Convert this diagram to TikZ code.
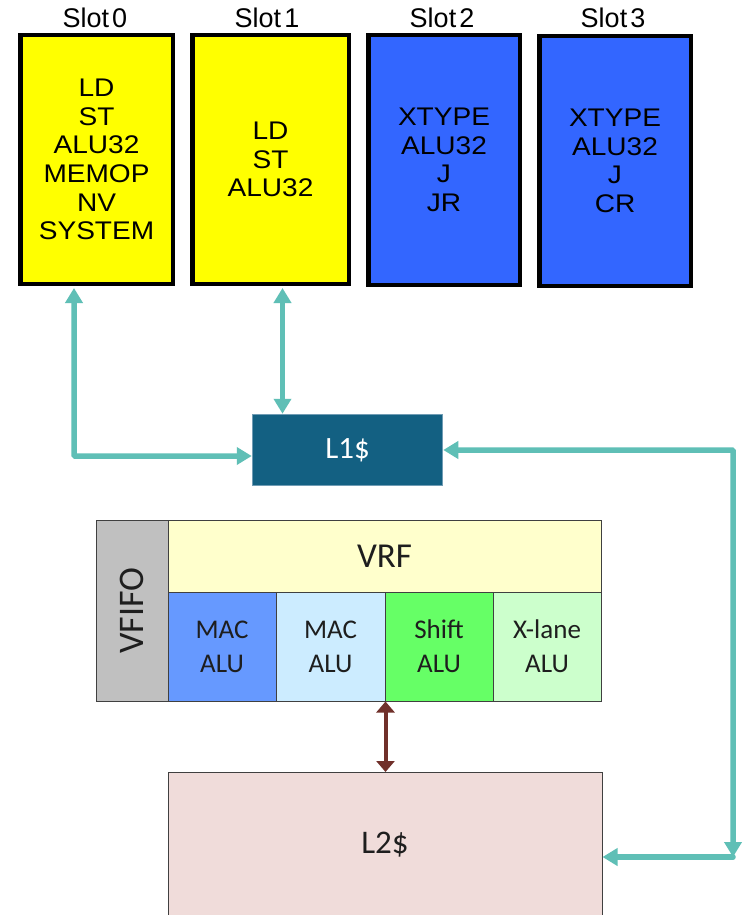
\documentclass[tikz,border=0pt]{standalone}
\usepackage{fontspec}
\setmainfont{Liberation Sans}
\newfontfamily\slotfont[FakeStretch=1.1]{Liberation Sans}
\newfontfamily\calfont{Carlito}
\usetikzlibrary{arrows.meta,calc}

\definecolor{slotyellow}{RGB}{255,255,0}
\definecolor{slotblue}{RGB}{51,102,255}
\definecolor{teal1}{RGB}{95,191,182}
\definecolor{l1fill}{RGB}{19,96,130}
\definecolor{l1edge}{RGB}{112,156,180}
\definecolor{l2fill}{RGB}{240,220,218}
\definecolor{vfifo}{RGB}{192,192,192}
\definecolor{vrf}{RGB}{255,255,204}
\definecolor{macA}{RGB}{102,153,255}
\definecolor{macB}{RGB}{204,236,255}
\definecolor{shiftc}{RGB}{102,255,102}
\definecolor{xlane}{RGB}{204,255,204}
\definecolor{brownarrow}{RGB}{112,48,42}
\definecolor{celltext}{RGB}{30,30,30}

\tikzset{
  slotbox/.style={draw=black, line width=4.5pt, inner sep=0pt, align=center,
    font={\slotfont\fontsize{25.5}{28.6}\selectfont}},
  slotlabel/.style={anchor=base, inner sep=0pt, font={\fontsize{27}{30}\selectfont}},
  cell/.style={draw=black!75, line width=1pt, inner sep=0pt, align=center,
    text=celltext, font={\calfont\fontsize{27}{34}\selectfont}},
  tealarrow/.style={draw=teal1, line width=5.5pt,
    arrows={Triangle[width=17pt,length=15pt]-Triangle[width=17pt,length=15pt]}},
  tealhead/.style={draw=teal1, line width=5.5pt, -{Triangle[width=17pt,length=15pt]}},
  brownarr/.style={draw=brownarrow, line width=4pt,
    {Triangle[width=18pt,length=11pt]}-{Triangle[width=18pt,length=11pt]}},
}

\begin{document}
\begin{tikzpicture}[x=1pt,y=-1pt]
\useasboundingbox (0,0) rectangle (742,915);
\clip (0,0) rectangle (742,915);
\fill[white] (0,0) rectangle (742,915);

% issue slots
\node[slotbox, fill=slotyellow, minimum width=152.5pt, minimum height=248.5pt] (s0) at (96.5,159.5)
  {LD\\ST\\ALU32\\MEMOP\\NV\\SYSTEM};
\node[slotbox, fill=slotyellow, minimum width=156.5pt, minimum height=248.5pt] (s1) at (270.5,159.5)
  {LD\\ST\\ALU32};
\node[slotbox, fill=slotblue, minimum width=151.5pt, minimum height=249.5pt] (s2) at (444,160)
  {XTYPE\\ALU32\\J\\JR};
\node[slotbox, fill=slotblue, minimum width=151.5pt, minimum height=249.5pt] (s3) at (615,161)
  {XTYPE\\ALU32\\J\\CR};

\node[slotlabel] (t0) at (95,28) {Slot\hspace{3pt}0};
\node[slotlabel] (t1) at (267,28) {Slot\hspace{3pt}1};
\node[slotlabel] (t2) at (442,28) {Slot\hspace{3pt}2};
\node[slotlabel] (t3) at (613,28) {Slot\hspace{3pt}3};

% L1 cache
\node[draw=l1edge, line width=1.5pt, fill=l1fill, text=white, inner sep=0pt,
  minimum width=190pt, minimum height=71pt,
  font={\calfont\fontsize{31}{34}\selectfont}] (l1) at (347.5,450) {L1\$};

% vector unit
\node[cell, fill=vfifo, minimum width=72pt, minimum height=181pt] (vfifo) at (132,610.5)
  {\rotatebox{90}{\fontsize{36}{40}\selectfont VFIFO}};
\node[cell, fill=vrf, minimum width=433pt, minimum height=72pt] (vrf) at (384.5,556)
  {\fontsize{35}{40}\selectfont VRF};
\node[cell, fill=macA, minimum width=108pt, minimum height=109pt] (alu0) at (222,646.5) {MAC\\ALU};
\node[cell, fill=macB, minimum width=109pt, minimum height=109pt] (alu1) at (330.5,646.5) {MAC\\ALU};
\node[cell, fill=shiftc, minimum width=108pt, minimum height=109pt] (alu2) at (439,646.5) {Shift\\ALU};
\node[cell, fill=xlane, minimum width=108pt, minimum height=109pt] (alu3) at (547,646.5) {X-lane\\ALU};

% L2 cache
\node[cell, fill=l2fill, minimum width=434pt, minimum height=145pt,
  font={\calfont\fontsize{33}{38}\selectfont}] (l2) at (385,845) {L2\$};

% connectors
\coordinate (c0) at ($(s0.south west)+(56,2)$);
\coordinate (c1) at ($(s1.south west)+(92.5,2)$);
\coordinate (r1) at (733,857);

\draw[tealarrow, rounded corners=1pt] (c0) |- ([yshift=-6pt]l1.west);
\draw[tealarrow] (c1) -- (l1.north -| c1);
\draw[tealarrow, rounded corners=1pt] (l1.east) -| (r1);
\draw[tealhead, line cap=round] (r1) -- (l2.east |- r1);

\draw[brownarr] (alu1.south east) -- (l2.north -| alu1.south east);
\end{tikzpicture}
\end{document}
